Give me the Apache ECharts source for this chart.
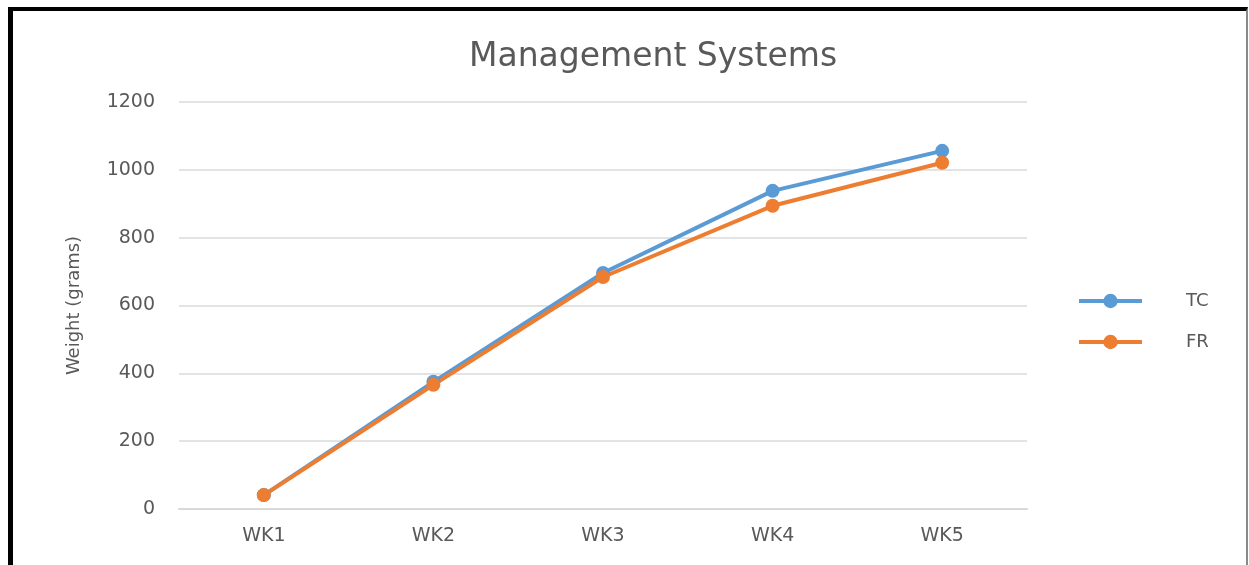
<!DOCTYPE html>
<html>
<head>
<meta charset="utf-8">
<script src="https://cdn.jsdelivr.net/npm/echarts@6/dist/echarts.min.js"></script>
<style>
	html, body { margin: 0; padding: 0; background: #fff; }
	#line { width: 1249px; height: 565px; }
	#frame {
		position: absolute; left: 8px; top: 7px; width: 1233px; height: 556px;
		border-top: 4px solid #000; border-left: 5px solid #000;
		border-right: 2px solid #8a8a8a; border-bottom: 1px solid #e0e0e0;
		pointer-events: none;
	}
</style>
</head>
<body>
<div id="line"></div>
<div id="frame"></div>
<script>
// 数据
let weeks = ['WK1', 'WK2', 'WK3', 'WK4', 'WK5'];
let tcData = [41, 375, 696, 938, 1056];
let frData = [41, 366, 684, 894, 1021];

let myChart = echarts.init(document.getElementById('line'));
myChart.setOption({
	textStyle: {
		fontFamily: 'DejaVu Sans'
	},
	title: {
		text: 'Management Systems',
		left: 464,
		top: 36,
		textStyle: {
			color: '#595959',
			fontSize: 33,
			fontWeight: 'normal'
		}
	},
	legend: {
		orient: 'vertical',
		left: 1072,
		top: 287,
		itemWidth: 63,
		itemHeight: 18,
		itemGap: 23,
		lineStyle: { width: 4 },
		textStyle: {
			color: '#595959',
			fontSize: 18,
			lineHeight: 18,
			padding: [0, 0, 0, 39]
		},
		data: ['TC', 'FR']
	},
	grid: {
		left: 179,
		right: 222,
		top: 102,
		bottom: 56
	},
	xAxis: {
		type: 'category',
		data: weeks,
		axisLine: {
			lineStyle: { color: '#d9d9d9', width: 2 }
		},
		axisTick: { show: false },
		axisLabel: {
			color: '#595959',
			fontSize: 19,
			margin: 18
		}
	},
	yAxis: {
		type: 'value',
		min: 0,
		max: 1200,
		interval: 200,
		name: 'Weight (grams)',
		nameLocation: 'middle',
		nameGap: 96,
		nameTextStyle: {
			color: '#595959',
			fontSize: 18
		},
		axisLabel: {
			color: '#595959',
			fontSize: 19,
			margin: 24,
			formatter: function(v) {
				return String(v);
			}
		},
		splitLine: {
			lineStyle: { color: '#e3e3e3', width: 2 }
		}
	},
	series: [{
		name: 'TC',
		type: 'line',
		data: tcData,
		symbol: 'circle',
		symbolSize: 14,
		itemStyle: { color: '#5B9BD5' },
		lineStyle: { width: 4 }
	}, {
		name: 'FR',
		type: 'line',
		data: frData,
		symbol: 'circle',
		symbolSize: 14,
		itemStyle: { color: '#ED7D31' },
		lineStyle: { width: 4 }
	}]
});
</script>
</body>
</html>
